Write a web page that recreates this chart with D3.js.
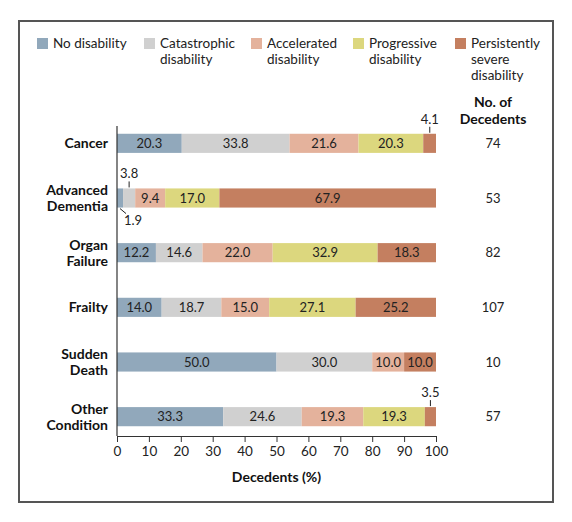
<!DOCTYPE html>
<html><head><meta charset="utf-8">
<script src="https://cdn.jsdelivr.net/npm/d3@7"></script>
<style>body{margin:0;background:#fff;} text{font-family:Lato, "Open Sans", sans-serif;}</style>
</head><body><svg id="c" width="572" height="522"></svg>
<script>
const categories = [["Cancer"], ["Advanced", "Dementia"], ["Organ", "Failure"], ["Frailty"], ["Sudden", "Death"], ["Other", "Condition"]];
const categoryKeys = ["Cancer", "Advanced Dementia", "Organ Failure", "Frailty", "Sudden Death", "Other Condition"];
const seriesNames = [["No disability"], ["Catastrophic", "disability"], ["Accelerated", "disability"], ["Progressive", "disability"], ["Persistently", "severe", "disability"]];
const seriesColors = ["#91a8bb", "#d0d0d0", "#e4b29c", "#dcd77e", "#c47f60"];
const noDisability   = [20.3, 1.9, 12.2, 14.0, 50.0, 33.3];
const catastrophic   = [33.8, 3.8, 14.6, 18.7, 30.0, 24.6];
const accelerated    = [21.6, 9.4, 22.0, 15.0, 10.0, 19.3];
const progressive    = [20.3, 17.0, 32.9, 27.1, 0, 19.3];
const persistently   = [4.1, 67.9, 18.3, 25.2, 10.0, 3.5];
const decedents      = [74, 53, 82, 107, 10, 57];
const xTicks = [0, 10, 20, 30, 40, 50, 60, 70, 80, 90, 100];
const series = [noDisability, catastrophic, accelerated, progressive, persistently];

const svg = d3.select("#c");
svg.append("rect").attr("x", 19).attr("y", 21).attr("width", 534).attr("height", 481)
  .attr("fill", "none").attr("stroke", "#555").attr("stroke-width", 2);

const x = d3.scaleLinear().domain([0, 100]).range([117, 436]);
const y = d3.scaleBand().domain(categoryKeys).range([116, 444]).paddingInner(0.65).paddingOuter(0.325);

// legend
const legendX = [37, 144, 251, 353, 455];
seriesNames.forEach((lines, i) => {
  svg.append("rect").attr("x", legendX[i]).attr("y", 38).attr("width", 11).attr("height", 11).attr("fill", seriesColors[i]);
  const t = svg.append("text").attr("x", legendX[i] + 16).attr("y", 48).attr("font-size", 13.5).attr("fill", "#222");
  lines.forEach((l, j) => t.append("tspan").attr("x", legendX[i] + 16).attr("dy", j ? 16 : 0).text(l));
});

// stacked segments
const rows = categoryKeys.map((k, i) => {
  let acc = 0;
  return series.map((s, j) => { const v = s[i]; const seg = {k, j, v, x0: acc, x1: acc + v}; acc += v; return seg; });
});
const g = svg.append("g");
rows.forEach(r => r.forEach(seg => {
  if (seg.v <= 0) return;
  g.append("rect").attr("x", x(seg.x0)).attr("y", y(seg.k)).attr("width", x(Math.min(seg.x1, 100)) - x(seg.x0))
    .attr("height", y.bandwidth()).attr("fill", seriesColors[seg.j]);
}));

// labels inside
rows.forEach(r => r.forEach(seg => {
  if (seg.v < 5) return;
  g.append("text").attr("x", x((seg.x0 + seg.x1) / 2)).attr("y", y(seg.k) + y.bandwidth() / 2)
    .attr("dy", "0.35em").attr("text-anchor", "middle").attr("font-size", 13).attr("fill", "#222")
    .text(seg.v.toFixed(1));
}));

// small-value callouts
function callAbove(seg) {
  const cx = x((seg.x0 + seg.x1) / 2), top = y(seg.k);
  g.append("line").attr("x1", cx).attr("x2", cx).attr("y1", top - 7).attr("y2", top - 1).attr("stroke", "#222");
  g.append("text").attr("x", cx).attr("y", top - 10).attr("text-anchor", "middle").attr("font-size", 13).attr("fill", "#222").text(seg.v.toFixed(1));
}
callAbove(rows[0][4]);
callAbove(rows[1][1]);
callAbove(rows[5][4]);
{
  const seg = rows[1][0];
  const cx = x((seg.x0 + seg.x1) / 2), bot = y(seg.k) + y.bandwidth();
  g.append("line").attr("x1", cx).attr("y1", bot + 1).attr("x2", cx + 6).attr("y2", bot + 6).attr("stroke", "#222");
  g.append("text").attr("x", cx + 4).attr("y", bot + 17).attr("font-size", 13).attr("fill", "#222").text(seg.v.toFixed(1));
}

// category labels
categoryKeys.forEach((k, i) => {
  const lines = categories[i];
  const cy = y(k) + y.bandwidth() / 2;
  const t = svg.append("text").attr("text-anchor", "end").attr("font-size", 14).attr("font-weight", "bold").attr("fill", "#111");
  lines.forEach((l, j) => t.append("tspan").attr("x", 108).attr("y", cy + (j - (lines.length - 1) / 2) * 16).attr("dy", "0.35em").text(l));
});

// counts
svg.append("text").attr("x", 493).attr("y", 102).attr("dy", "0.35em").attr("text-anchor", "middle").attr("font-size", 14).attr("font-weight", "bold").attr("fill", "#111").text("No. of");
svg.append("text").attr("x", 493).attr("y", 119).attr("dy", "0.35em").attr("text-anchor", "middle").attr("font-size", 14).attr("font-weight", "bold").attr("fill", "#111").text("Decedents");
categoryKeys.forEach((k, i) => {
  svg.append("text").attr("x", 493).attr("y", y(k) + y.bandwidth() / 2).attr("dy", "0.35em").attr("text-anchor", "middle")
    .attr("font-size", 13).attr("fill", "#222").text(decedents[i]);
});

// axes
svg.append("line").attr("x1", 117).attr("x2", 117).attr("y1", 126).attr("y2", 436).attr("stroke", "#333").attr("stroke-width", 1.2);
const xAxis = svg.append("g").attr("transform", "translate(0,436)")
  .call(d3.axisBottom(x).tickValues(xTicks).tickSize(6).tickSizeOuter(0).tickPadding(4));
xAxis.select(".domain").attr("stroke", "#333").attr("stroke-width", 1.2);
xAxis.selectAll(".tick line").attr("stroke", "#333");
xAxis.selectAll(".tick text").attr("font-size", 13.5).attr("fill", "#222").attr("font-family", "Lato, sans-serif");
svg.append("text").attr("x", x(50)).attr("y", 477).attr("dy", "0.35em").attr("text-anchor", "middle")
  .attr("font-size", 14).attr("font-weight", "bold").attr("fill", "#111").text("Decedents (%)");
</script></body></html>
